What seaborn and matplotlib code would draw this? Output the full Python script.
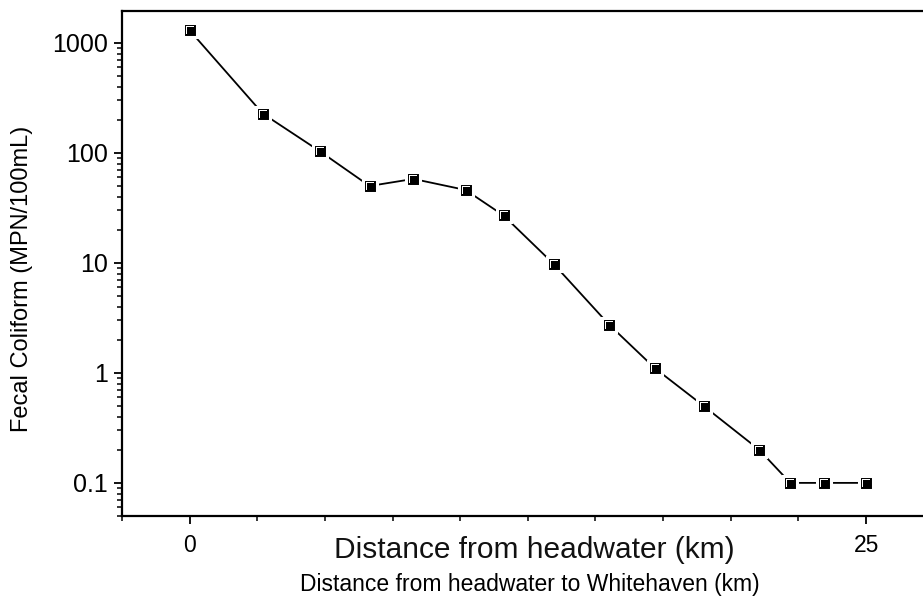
import numpy as np
import pandas as pd
import matplotlib
matplotlib.use("Agg")
import matplotlib.pyplot as plt
from matplotlib.path import Path
from matplotlib.ticker import FixedLocator, MultipleLocator, LogLocator, NullFormatter, FixedFormatter
import seaborn as sns

# ---- data ----
distance_km = [0.0, 2.7, 4.8, 6.65, 8.27, 10.2, 11.6, 13.45, 15.5, 17.2, 19.0, 21.05, 22.2, 23.45, 25.0]
fecal_coliform = [1300, 228, 104, 50, 58, 46, 27, 9.8, 2.75, 1.1, 0.5, 0.2, 0.1, 0.1, 0.1]
x_tick_values = [0, 25]
x_tick_labels = ["0", "25"]
y_tick_values = [0.1, 1, 10, 100, 1000]
y_tick_labels = ["0.1", "1", "10", "100", "1000"]
x_label_main = "Distance from headwater (km)"
x_label_sub = "Distance from headwater to Whitehaven (km)"
y_label = "Fecal Coliform (MPN/100mL)"

df = pd.DataFrame({"distance": distance_km, "fc": fecal_coliform})

sns.set_theme(style="white")
plt.rcParams["font.family"] = ["Liberation Sans", "DejaVu Sans"]

W, H = 923, 599
fig = plt.figure(figsize=(W / 100, H / 100), dpi=100)
left_px, right_px, top_px, bottom_px = 122, 942, 11, 516
ax = fig.add_axes([left_px / W, 1 - bottom_px / H,
                   (right_px - left_px) / W, (bottom_px - top_px) / H])

sns.lineplot(data=df, x="distance", y="fc", ax=ax, color="black", lw=1.3,
             marker="s", markersize=10.4, markerfacecolor="black",
             markeredgecolor="white", markeredgewidth=2.2, estimator=None)

# white "Γ" highlight inside each marker
gamma = [(-2.9, -2.7), (-2.9, 2.9), (2.7, 2.9), (2.7, 1.9), (-1.9, 1.9), (-1.9, -2.7), (-2.9, -2.7)]
gpath = Path(gamma, closed=True)
ax.plot(df["distance"], df["fc"], linestyle="none", marker=gpath, markersize=5.8,
        markerfacecolor="white", markeredgewidth=0, color="white")

ax.set_yscale("log")
ax.set_ylim(0.05, 1950)
ax.set_xlim(-2.5, (right_px - 189) / 27.08)

ax.xaxis.set_major_locator(FixedLocator(x_tick_values))
ax.xaxis.set_major_formatter(FixedFormatter(x_tick_labels))
ax.xaxis.set_minor_locator(MultipleLocator(2.5))
ax.yaxis.set_major_locator(FixedLocator(y_tick_values))
ax.yaxis.set_major_formatter(FixedFormatter(y_tick_labels))
ax.yaxis.set_minor_locator(LogLocator(base=10, subs=np.arange(2, 10), numticks=20))
ax.yaxis.set_minor_formatter(NullFormatter())

ax.tick_params(axis="both", which="major", direction="out", length=6, width=1.3,
               colors="black", bottom=True, left=True)
ax.tick_params(axis="both", which="minor", direction="out", length=3.7, width=1.1,
               colors="black", bottom=True, left=True)
ax.tick_params(axis="x", which="major", pad=7, labelsize=16.5)
ax.tick_params(axis="y", which="major", pad=4, labelsize=18)

for side in ["left", "top", "bottom"]:
    ax.spines[side].set_visible(True)
    ax.spines[side].set_color("black")
    ax.spines[side].set_linewidth(1.6)
ax.spines["right"].set_visible(False)

ax.set_xlabel("")
ax.set_ylabel("")
fig.text(534 / W, 1 - 558 / H, x_label_main, ha="center", va="baseline",
         fontsize=21.5, color="#111111")
fig.text(530 / W, 1 - 591 / H, x_label_sub, ha="center", va="baseline",
         fontsize=16.5, color="black")
fig.text(22 / W, 1 - 279 / H, y_label, ha="center", va="center", rotation=90,
         fontsize=17, color="black")

fig.savefig("out.png", dpi=100)
